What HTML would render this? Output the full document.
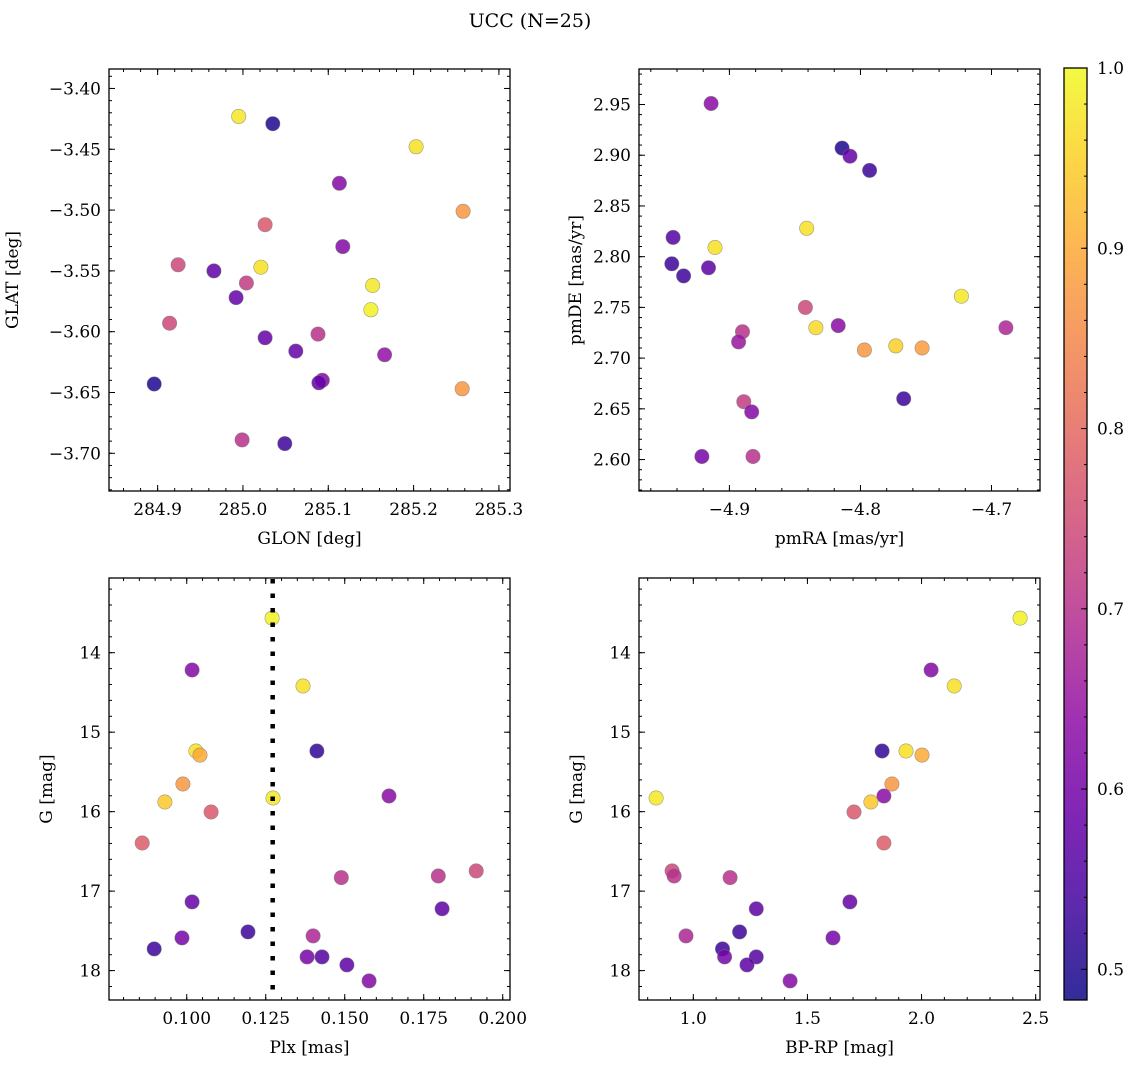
<!DOCTYPE html>
<html><head><meta charset="utf-8"><style>
html,body{margin:0;padding:0;background:#fff;}
svg{display:block;font-family:"DejaVu Serif","Liberation Serif",serif;}
</style></head><body>
<svg id="fig" width="1136" height="1068" viewBox="0 0 1136 1068" xmlns="http://www.w3.org/2000/svg">
<text x="530" y="27" text-anchor="middle" font-size="19">UCC (N=25)</text>
</svg>
<script>
// ---- data ----
const glon = [284.995,285.035,285.203,285.113,285.258,285.026,285.117,284.924,285.021,284.966,285.004,285.152,284.992,285.150,284.914,285.088,285.026,285.166,285.062,285.093,285.089,284.896,285.257,284.999,285.049];
const glat = [-3.423,-3.429,-3.448,-3.478,-3.501,-3.512,-3.530,-3.545,-3.547,-3.550,-3.560,-3.562,-3.572,-3.582,-3.593,-3.602,-3.605,-3.619,-3.616,-3.640,-3.642,-3.643,-3.647,-3.689,-3.692];
const probPos = [0.98,0.50,0.97,0.62,0.87,0.77,0.62,0.74,0.97,0.57,0.72,0.98,0.58,0.99,0.74,0.70,0.58,0.64,0.58,0.62,0.58,0.50,0.87,0.70,0.53];
const pmra = [-4.914,-4.814,-4.808,-4.793,-4.943,-4.911,-4.841,-4.944,-4.935,-4.916,-4.723,-4.842,-4.834,-4.817,-4.890,-4.689,-4.893,-4.797,-4.773,-4.753,-4.767,-4.889,-4.883,-4.921,-4.882];
const pmde = [2.951,2.907,2.899,2.885,2.819,2.809,2.828,2.793,2.781,2.789,2.761,2.750,2.730,2.732,2.726,2.730,2.716,2.708,2.712,2.710,2.660,2.657,2.647,2.603,2.603];
const probPm = [0.63,0.50,0.58,0.53,0.56,0.97,0.97,0.53,0.53,0.57,0.98,0.74,0.96,0.63,0.70,0.68,0.65,0.87,0.95,0.88,0.53,0.72,0.62,0.60,0.70];
const plx = [0.1270,0.1017,0.1368,0.1412,0.1029,0.1042,0.0988,0.1273,0.1640,0.0931,0.1077,0.0859,0.1489,0.1916,0.1796,0.1017,0.1808,0.1194,0.0985,0.1400,0.0897,0.1381,0.1428,0.1507,0.1577];
const gmag = [13.564,14.218,14.419,15.237,15.237,15.288,15.652,15.828,15.803,15.878,16.004,16.394,16.83,16.746,16.81,17.135,17.223,17.513,17.588,17.563,17.727,17.828,17.828,17.928,18.130];
const bprp = [2.432,2.042,2.143,1.827,1.932,2.002,1.870,0.837,1.835,1.778,1.704,1.835,1.161,0.907,0.916,1.686,1.276,1.203,1.612,0.968,1.128,1.137,1.276,1.235,1.424];
const probPhot = [0.99,0.62,0.97,0.52,0.97,0.90,0.87,0.98,0.63,0.94,0.77,0.78,0.70,0.74,0.70,0.58,0.57,0.53,0.60,0.68,0.53,0.60,0.56,0.57,0.62];
const plxLine = 0.1272;
const cbTicks = [0.5,0.6,0.7,0.8,0.9,1.0];

const NS="http://www.w3.org/2000/svg";
const svg=document.getElementById('fig');
function el(tag,attrs,parent){const e=document.createElementNS(NS,tag);for(const k in attrs)e.setAttribute(k,attrs[k]);(parent||svg).appendChild(e);return e;}
const plasma=[[13,8,135],[65,4,157],[106,0,168],[143,13,164],[177,42,144],[204,71,120],[225,100,98],[242,132,75],[252,166,54],[252,206,37],[240,249,33]];
const VMIN=0.483,VMAX=1.0;
function cmap(p){let t=(p-VMIN)/(VMAX-VMIN);t=Math.max(0,Math.min(1,t))*10;const i=Math.min(9,Math.floor(t)),f=t-i;const a=plasma[i],b=plasma[i+1];
return 'rgb('+a.map((v,k)=>Math.round(v+(b[k]-v)*f)).join(',')+')';}

function fmt(v,d){const s=Math.abs(v).toFixed(d);return (v<0?'\u2212':'')+s;}

function panel(name,box,xr,yr,xMajor,xMinor,xDec,yMajor,yMinor,yDec,xlabel,ylabel,xs,ys,ps,invertY){
  const g=el('g',{});
  
  
  const [L,T,R,B]=box;
  const X=v=>L+(v-xr[0])/(xr[1]-xr[0])*(R-L);
  const Y=invertY? v=>T+(v-yr[0])/(yr[1]-yr[0])*(B-T) : v=>B-(v-yr[0])/(yr[1]-yr[0])*(B-T);
  const pts=el('g',{},g);
  
  
  for(let i=0;i<xs.length;i++){
    const c=el('circle',{cx:X(xs[i]).toFixed(1),cy:Y(ys[i]).toFixed(1),r:7.2,fill:cmap(ps[i]),'fill-opacity':0.85,stroke:'#777','stroke-width':0.6,'stroke-opacity':0.7},pts);
    
    
  }
  const ax=el('g',{},g);
  
  
  const eps=1e-9;
  function ticksX(step,len){const s=Math.ceil((xr[0]-eps)/step);for(let k=s;k*step<=xr[1]+eps;k++){const x=X(k*step);el('line',{x1:x,x2:x,y1:B,y2:B-len,stroke:'#000','stroke-width':1},ax);el('line',{x1:x,x2:x,y1:T,y2:T+len,stroke:'#000','stroke-width':1},ax);}}
  function ticksY(step,len){const lo=Math.min(yr[0],yr[1]),hi=Math.max(yr[0],yr[1]);const s=Math.ceil((lo-eps)/step);for(let k=s;k*step<=hi+eps;k++){const y=Y(k*step);el('line',{x1:L,x2:L+len,y1:y,y2:y,stroke:'#000','stroke-width':1},ax);el('line',{x1:R,x2:R-len,y1:y,y2:y,stroke:'#000','stroke-width':1},ax);}}
  ticksX(xMinor,3);ticksX(xMajor,6);ticksY(yMinor,3);ticksY(yMajor,6);
  {const s=Math.ceil((xr[0]-eps)/xMajor);for(let k=s;k*xMajor<=xr[1]+eps;k++){const t=el('text',{x:X(k*xMajor),y:B+24,'text-anchor':'middle','font-size':17},ax);t.textContent=fmt(k*xMajor,xDec);}}
  {const lo=Math.min(yr[0],yr[1]),hi=Math.max(yr[0],yr[1]);const s=Math.ceil((lo-eps)/yMajor);for(let k=s;k*yMajor<=hi+eps;k++){const t=el('text',{x:L-8,y:Y(k*yMajor)+6,'text-anchor':'end','font-size':17},ax);t.textContent=fmt(k*yMajor,yDec);}}
  el('rect',{x:L,y:T,width:R-L,height:B-T,fill:'none',stroke:'#000','stroke-width':1.3},ax);
  const xl=el('text',{x:(L+R)/2,y:B+53,'text-anchor':'middle','font-size':17},ax);xl.textContent=xlabel;
  
  const yx=L-(yDec>=2?(yr[0]<0?91:58):57);
  const yl=el('text',{x:yx,y:(T+B)/2,'text-anchor':'middle','font-size':17,transform:'rotate(-90 '+yx+' '+(T+B)/2+')'},ax);yl.textContent=ylabel;
  
  return {X,Y,T,B};
}

panel('glon-glat-panel',[109,69,510,491],[284.843,285.313],[-3.731,-3.384],0.1,0.02,1,0.05,0.01,2,'GLON [deg]','GLAT [deg]',glon,glat,probPos,false);
panel('pm-panel',[639,69,1040,491],[-4.969,-4.663],[2.569,2.985],0.1,0.02,1,0.05,0.01,2,'pmRA [mas/yr]','pmDE [mas/yr]',pmra,pmde,probPm,false);
const p3=panel('plx-g-panel',[109,578,510,1000],[0.0754,0.2023],[13.06,18.37],0.025,0.005,3,1,0.2,0,'Plx [mas]','G [mag]',plx,gmag,probPhot,true);
const vl=el('line',{x1:p3.X(plxLine),x2:p3.X(plxLine),y1:579,y2:999,stroke:'#000','stroke-width':4.5,'stroke-dasharray':'4.5 10'});


panel('cmd-panel',[639,578,1040,1000],[0.762,2.519],[13.06,18.37],0.5,0.1,1,1,0.2,0,'BP-RP [mag]','G [mag]',bprp,gmag,probPhot,true);

// colorbar
const defs=el('defs',{});
const lg=el('linearGradient',{id:'cbg',x1:0,y1:1,x2:0,y2:0},defs);
for(let i=0;i<=20;i++){const p=VMIN+(VMAX-VMIN)*i/20;el('stop',{offset:(i/20).toFixed(3),'stop-color':cmap(p)},lg);}
const cb=el('g',{});


const cT=68,cB=1000,cL=1064,cR=1087;
const CY=v=>cB-(v-VMIN)/(VMAX-VMIN)*(cB-cT);
el('rect',{x:cL,y:cT,width:cR-cL,height:cB-cT,fill:'url(#cbg)','fill-opacity':0.85},cb);
for(let k=25;k<=50;k++){const v=k*0.02;if(v<VMIN)continue;const y=CY(v);el('line',{x1:cR-3,x2:cR,y1:y,y2:y,stroke:'#000','stroke-width':1},cb);}
cbTicks.forEach(v=>{const y=CY(v);el('line',{x1:cR-6,x2:cR,y1:y,y2:y,stroke:'#000','stroke-width':1},cb);const t=el('text',{x:cR+10,y:y+6,'font-size':17},cb);t.textContent=v.toFixed(1);});
el('rect',{x:cL,y:cT,width:cR-cL,height:cB-cT,fill:'none',stroke:'#000','stroke-width':1.3},cb);
</script>
</body></html>
